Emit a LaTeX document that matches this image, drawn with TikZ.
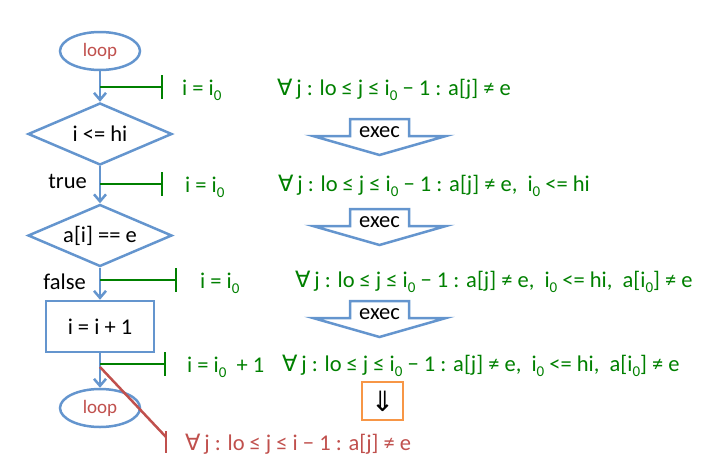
\documentclass[tikz,border=0pt]{standalone}
\usepackage{fontspec}
\setmainfont{Carlito}
\newfontfamily\symfont{DejaVu Sans}
\usetikzlibrary{arrows.meta}
\usetikzlibrary{shapes.geometric}

\definecolor{flowblue}{RGB}{100,149,206}
\definecolor{condgreen}{RGB}{0,128,0}
\definecolor{postred}{RGB}{192,80,77}
\definecolor{implorange}{RGB}{247,150,70}

\newcommand{\all}{{\symfont ∀}\,}
\newcommand{\izero}{i\raisebox{-5.5pt}{\fontsize{15}{15}\selectfont 0}}

\tikzset{
  flow/.style={draw=flowblue, line width=2.5pt},
  arr/.style={flow, -{Straight Barb[length=7pt,width=12pt,line width=2.5pt]}},
  tee/.style={draw=condgreen, line width=2.5pt, -{Bar[width=24pt,line width=2.5pt]}},
  term/.style={flow, ellipse, minimum width=80pt, minimum height=38pt, inner sep=0pt,
    text=postred, font=\fontsize{19}{22}\selectfont},
  decide/.style={flow, diamond, aspect=2.3, minimum width=144pt, minimum height=62pt,
    inner sep=0pt, font=\fontsize{22.5}{27}\selectfont},
  proc/.style={flow, rectangle, minimum width=108pt, minimum height=51pt,
    font=\fontsize{22.5}{27}\selectfont},
  cond/.style={text=condgreen, anchor=base west, inner sep=0pt, font=\fontsize{22.5}{27}\selectfont},
  lbl/.style={anchor=east, inner sep=0pt, font=\fontsize{22.5}{27}\selectfont}
}

\begin{document}
\begin{tikzpicture}[x=1pt,y=-1pt]
  \useasboundingbox (0,0) rectangle (715,464);

  % flowchart
  \node[term] (loopA) at (100,51) {loop};
  \node[decide] (test) at (100,134) {i <= hi};
  \node[decide] (found) at (100,235.5) {a[i] == e};
  \node[proc] (incr) at (100,326.5) {i = i + 1};
  \node[term] (loopB) at (100,408) {loop};
  \node[lbl] (lbtrue) at (87,181) {true};
  \node[lbl] (lbfalse) at (86,282) {false};

  \draw[arr] (loopA) -- (test);
  \draw[arr] (test) -- (found);
  \draw[arr] (found) -- (incr);
  \draw[arr] (incr) -- (loopB);

  % assertion points
  \coordinate (p1) at (100,87);  \coordinate (q1) at (163,87);
  \coordinate (p2) at (100,184); \coordinate (q2) at (163,184);
  \coordinate (p3) at (100,280); \coordinate (q3) at (177,280);
  \coordinate (p4) at (100,364); \coordinate (q4) at (166,364);
  \draw[tee] (p1) -- (q1);
  \draw[tee] (p2) -- (q2);
  \draw[tee] (p3) -- (q3);
  \draw[tee] (p4) -- (q4);

  \node[cond] (st1) at (182,95) {i = \izero};
  \node[cond] (st2) at (185,192) {i = \izero};
  \node[cond] (st3) at (200,288) {i = \izero};
  \node[cond] (st4) at (187,372) {i = \izero\ \ + 1};

  \node[cond] (inv1) at (277,95) {\all j : lo ≤ j ≤ \izero{} − 1 : a[j] ≠ e};
  \node[cond] (inv2) at (278,191) {\all j : lo ≤ j ≤ \izero{} − 1 : a[j] ≠ e,\ \ \izero{} <= hi};
  \node[cond] (inv3) at (295,287) {\all j : lo ≤ j ≤ \izero{} − 1 : a[j] ≠ e,\ \ \izero{} <= hi,\ \ a[\izero] ≠ e};
  \node[cond] (inv4) at (282,371) {\all j : lo ≤ j ≤ \izero{} − 1 : a[j] ≠ e,\ \ \izero{} <= hi,\ \ a[\izero] ≠ e};

  % exec arrows
  \foreach \y/\n in {119/1,209/2,301/3}{
    \draw[flow] (350,\y) -- (409,\y) -- (409,\y+17) -- (446,\y+17) -- (379.5,\y+36)
      -- (313,\y+17) -- (350,\y+17) -- cycle;
    \node[font=\fontsize{22.5}{27}\selectfont] (exec\n) at (379.5,\y+13) {exec};
  }

  % implication
  \node[draw=implorange, line width=2.5pt, minimum width=41pt, minimum height=38pt,
    font=\symfont\fontsize{28}{32}\selectfont] (impl) at (382.5,401) {⇓};

  % postcondition
  \coordinate (r0) at (100,367);
  \coordinate (r1) at (166,437);
  \draw[postred, line width=2.5pt] (r0) -- (r1);
  \draw[postred, line width=2.5pt] (166,431) -- (166,453);
  \node[cond, text=postred] (post) at (185,450) {\all j : lo ≤ j ≤ i − 1 : a[j] ≠ e};
\end{tikzpicture}
\end{document}
